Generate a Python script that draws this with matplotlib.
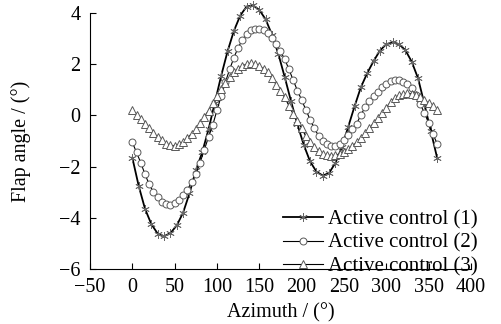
import numpy as np
import matplotlib
matplotlib.use("Agg")
import matplotlib.pyplot as plt

plt.rcParams['font.family'] = ['Liberation Serif', 'DejaVu Serif']
plt.rcParams['font.size'] = 14.5

# azimuth positions for each series (deg)
az_1 = np.arange(0, 360.1, 7.5)
az_2 = np.arange(0, 360.1, 5)
az_3 = np.arange(0, 360.1, 5)

# Active control (1), every 7.5 deg
flap_1 = [-1.65, -2.75, -3.65, -4.25, -4.62, -4.72, -4.6, -4.3, -3.8, -3.05,
          -2.15, -1.45, -0.55, 0.5, 1.55, 2.5, 3.3, 3.9, 4.25, 4.3,
          4.12, 3.75, 3.15, 2.4, 1.5, 0.55, -0.35, -1.15, -1.8, -2.2,
          -2.35, -2.25, -1.85, -1.25, -0.45, 0.35, 1.1, 1.65, 2.12, 2.53,
          2.78, 2.85, 2.78, 2.55, 2.1, 1.45, 0.45, -0.6, -1.65]

# Active control (2), every 5 deg
flap_2 = [-1.05, -1.45, -1.85, -2.3, -2.7, -3.0, -3.2, -3.38, -3.47, -3.49,
          -3.42, -3.3, -3.12, -2.9, -2.62, -2.3, -1.85, -1.35, -0.85, -0.38,
          0.2, 0.75, 1.3, 1.8, 2.25, 2.65, 2.95, 3.18, 3.32, 3.38,
          3.38, 3.33, 3.22, 3.03, 2.78, 2.5, 2.2, 1.8, 1.38, 0.97,
          0.6, 0.22, -0.17, -0.5, -0.8, -1.0, -1.13, -1.2, -1.21, -1.12,
          -0.95, -0.78, -0.55, -0.33, 0.02, 0.32, 0.55, 0.75, 0.92, 1.1,
          1.22, 1.33, 1.38, 1.38, 1.32, 1.22, 1.05, 0.78, 0.45, 0.1,
          -0.3, -0.72, -1.1]

# Active control (3), every 5 deg
flap_3 = [0.22, 0.03, -0.15, -0.33, -0.5, -0.69, -0.85, -0.98, -1.1, -1.17,
          -1.19, -1.13, -1.03, -0.88, -0.72, -0.55, -0.3, -0.05, 0.18, 0.48,
          0.75, 1.02, 1.28, 1.5, 1.68, 1.83, 1.93, 2.0, 2.03, 2.0,
          1.92, 1.82, 1.68, 1.45, 1.2, 0.95, 0.7, 0.38, 0.05, -0.22,
          -0.5, -0.82, -1.05, -1.25, -1.4, -1.5, -1.55, -1.57, -1.56, -1.5,
          -1.43, -1.32, -1.2, -1.05, -0.88, -0.7, -0.5, -0.3, -0.1, 0.1,
          0.3, 0.52, 0.68, 0.78, 0.84, 0.86, 0.85, 0.8, 0.7, 0.6,
          0.48, 0.35, 0.22]

labels = ['Active control (1)', 'Active control (2)', 'Active control (3)']

fig = plt.figure(figsize=(5.01, 3.24), dpi=100)
ax = fig.add_axes([0.1796, 0.1698, 0.7604, 0.7902])

ax.plot(az_1, flap_1, color='black', lw=1.3, marker=(6, 2, 0), ms=6,
        mec='0.4', mew=0.6, label=labels[0], clip_on=False)
ax.plot(az_2, flap_2, color='black', lw=0.8, marker='o', ms=5,
        mfc='white', mec='0.35', mew=0.7, label=labels[1], clip_on=False)
ax.plot(az_3, flap_3, color='black', lw=0.8, marker='^', ms=5.5,
        mfc='white', mec='0.35', mew=0.7, label=labels[2], clip_on=False)

ax.set_xlim(-50, 400)
ax.set_ylim(-6, 4)
ax.set_xticks(np.arange(-50, 401, 50))
ax.set_yticks(np.arange(-6, 5, 2))
ax.tick_params(direction='in', length=4, width=0.8)
ax.tick_params(axis='x', pad=6.5)
ax.tick_params(axis='y', pad=7)
ax.spines['top'].set_visible(False)
ax.spines['right'].set_visible(False)

ax.set_xlabel('Azimuth / (°)', labelpad=4)
ax.set_ylabel('Flap angle / (°)', labelpad=20)

ax.legend(loc='lower right', bbox_to_anchor=(1.04, -0.061), frameon=False,
          fontsize=15, handlelength=1.9, labelspacing=0.18, borderaxespad=0,
          handletextpad=0.25)

plt.savefig('out.png', dpi=100)
